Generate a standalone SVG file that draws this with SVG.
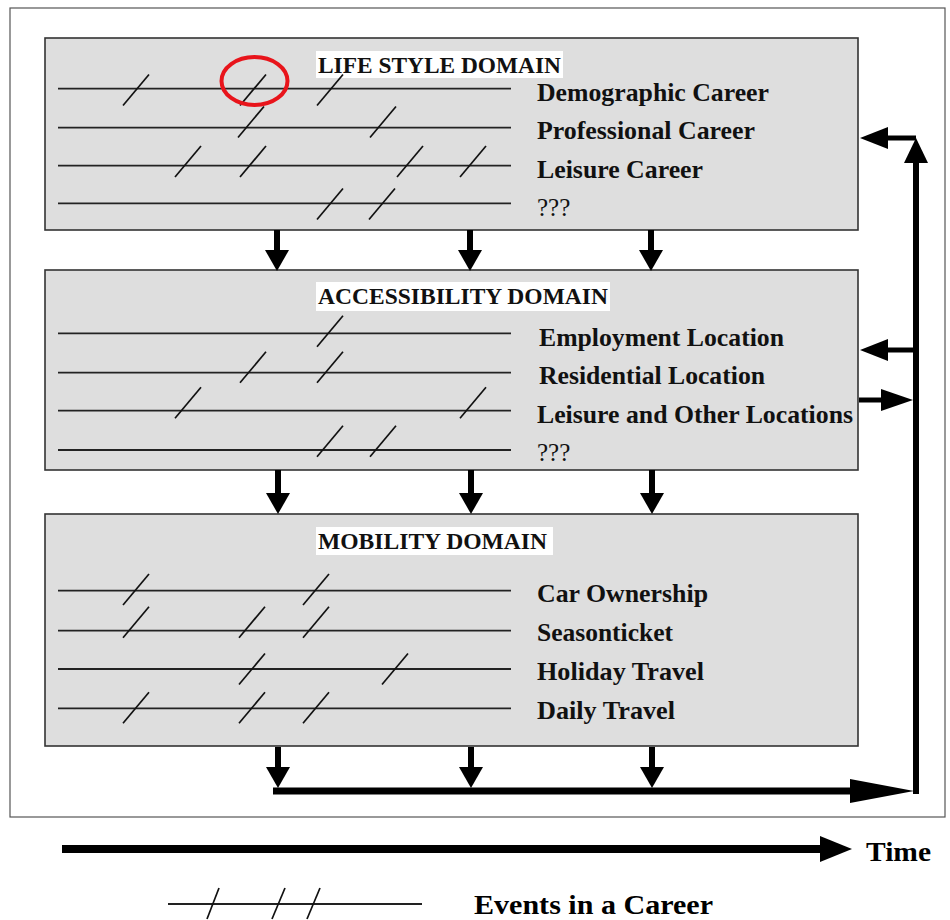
<svg xmlns="http://www.w3.org/2000/svg" xmlns:xlink="http://www.w3.org/1999/xlink" width="950" height="920" viewBox="0 0 950 920">
<style>
.frame{fill:#fff;stroke:#555;stroke-width:1.2}
.box{fill:#dedede;stroke:#333;stroke-width:1.6}
.row{stroke:#222;stroke-width:1.8;fill:none}
.tick{stroke:#111;stroke-width:1.7;fill:none}
.tbg{fill:#fff}
.title{font-family:"Liberation Serif","Times New Roman",serif;font-weight:bold;font-size:23px;fill:#111}
.lbl{font-family:"Liberation Serif","Times New Roman",serif;font-weight:bold;font-size:25px;fill:#111}
.q{font-family:"Liberation Serif","Times New Roman",serif;font-weight:normal;font-size:25px;fill:#111}
.big{font-family:"Liberation Serif","Times New Roman",serif;font-weight:bold;font-size:28px;fill:#000}
.shaft{stroke:#000;fill:none;stroke-linecap:butt}
.head{fill:#000}
</style>
<defs>
<path id="tk" class="tick" d="M-13,15 L13,-16"/>
</defs>
<rect class="frame" x="10" y="8" width="935" height="809"/>

<g id="lifestyle">
<rect class="box" x="45" y="38" width="813" height="192"/>
<rect class="tbg" x="316" y="51" width="247" height="27"/>
<text class="title" x="318" y="73" textLength="243" lengthAdjust="spacingAndGlyphs">LIFE STYLE DOMAIN</text>
<line class="row" x1="58" y1="88.7" x2="511" y2="88.7"/>
<line class="row" x1="58" y1="127.7" x2="511" y2="127.7"/>
<line class="row" x1="58" y1="165.7" x2="511" y2="165.7"/>
<line class="row" x1="58" y1="203.3" x2="511" y2="203.3"/>
<use xlink:href="#tk" x="136" y="90.5"/><use xlink:href="#tk" x="253" y="90.5"/><use xlink:href="#tk" x="330" y="90.5"/>
<use xlink:href="#tk" x="251" y="122.5"/><use xlink:href="#tk" x="383" y="122.5"/>
<use xlink:href="#tk" x="188" y="162"/><use xlink:href="#tk" x="253" y="162"/><use xlink:href="#tk" x="410" y="162"/><use xlink:href="#tk" x="473" y="162"/>
<use xlink:href="#tk" x="330" y="204.5"/><use xlink:href="#tk" x="382" y="204.5"/>
<text class="lbl" x="537" y="101" textLength="232" lengthAdjust="spacingAndGlyphs">Demographic Career</text>
<text class="lbl" x="537" y="139" textLength="218" lengthAdjust="spacingAndGlyphs">Professional Career</text>
<text class="lbl" x="537" y="178" textLength="166" lengthAdjust="spacingAndGlyphs">Leisure Career</text>
<text class="q" x="537" y="216">???</text>
<ellipse cx="254.5" cy="81" rx="33" ry="24" fill="none" stroke="#e8141b" stroke-width="4"/>
</g>

<g id="accessibility">
<rect class="box" x="45" y="270" width="813" height="200"/>
<rect class="tbg" x="316" y="282" width="294" height="29"/>
<text class="title" x="318" y="304" textLength="290" lengthAdjust="spacingAndGlyphs">ACCESSIBILITY DOMAIN</text>
<line class="row" x1="58" y1="333.3" x2="511" y2="333.3"/>
<line class="row" x1="58" y1="372.7" x2="511" y2="372.7"/>
<line class="row" x1="58" y1="410.7" x2="511" y2="410.7"/>
<line class="row" x1="58" y1="450" x2="511" y2="450"/>
<use xlink:href="#tk" x="330" y="331.7"/>
<use xlink:href="#tk" x="253" y="367.8"/><use xlink:href="#tk" x="330" y="367.8"/>
<use xlink:href="#tk" x="188" y="403.3"/><use xlink:href="#tk" x="473" y="403.3"/>
<use xlink:href="#tk" x="330" y="441.7"/><use xlink:href="#tk" x="383" y="441.7"/>
<text class="lbl" x="539" y="346" textLength="245" lengthAdjust="spacingAndGlyphs">Employment Location</text>
<text class="lbl" x="539" y="384" textLength="226" lengthAdjust="spacingAndGlyphs">Residential Location</text>
<text class="lbl" x="537" y="423" textLength="316" lengthAdjust="spacingAndGlyphs">Leisure and Other Locations</text>
<text class="q" x="537" y="461">???</text>
</g>

<g id="mobility">
<rect class="box" x="45" y="514" width="813" height="232"/>
<rect class="tbg" x="316" y="527" width="237" height="28"/>
<text class="title" x="318" y="549" textLength="229" lengthAdjust="spacingAndGlyphs">MOBILITY DOMAIN</text>
<line class="row" x1="58" y1="590.7" x2="511" y2="590.7"/>
<line class="row" x1="58" y1="630.7" x2="511" y2="630.7"/>
<line class="row" x1="58" y1="669" x2="511" y2="669"/>
<line class="row" x1="58" y1="708.3" x2="511" y2="708.3"/>
<use xlink:href="#tk" x="136" y="590"/><use xlink:href="#tk" x="316" y="590"/>
<use xlink:href="#tk" x="136" y="622.7"/><use xlink:href="#tk" x="252" y="622.7"/><use xlink:href="#tk" x="316" y="622.7"/>
<use xlink:href="#tk" x="252" y="669.5"/><use xlink:href="#tk" x="395" y="669.5"/>
<use xlink:href="#tk" x="136" y="708.3"/><use xlink:href="#tk" x="252" y="708.3"/><use xlink:href="#tk" x="316" y="708.3"/>
<text class="lbl" x="537" y="602" textLength="171" lengthAdjust="spacingAndGlyphs">Car Ownership</text>
<text class="lbl" x="537" y="641" textLength="136" lengthAdjust="spacingAndGlyphs">Seasonticket</text>
<text class="lbl" x="537" y="680" textLength="167" lengthAdjust="spacingAndGlyphs">Holiday Travel</text>
<text class="lbl" x="537" y="719" textLength="138" lengthAdjust="spacingAndGlyphs">Daily Travel</text>
</g>

<g id="connectors">
<line class="shaft" stroke-width="6" x1="277" y1="230" x2="277" y2="252"/>
<line class="shaft" stroke-width="6" x1="470" y1="230" x2="470" y2="252"/>
<line class="shaft" stroke-width="6" x1="651" y1="230" x2="651" y2="252"/>
<polygon class="head" points="265,250 289,250 277,271"/>
<polygon class="head" points="458,250 482,250 470,271"/>
<polygon class="head" points="639,250 663,250 651,271"/>
<line class="shaft" stroke-width="6" x1="278" y1="470" x2="278" y2="495"/>
<line class="shaft" stroke-width="6" x1="471" y1="470" x2="471" y2="495"/>
<line class="shaft" stroke-width="6" x1="652" y1="470" x2="652" y2="495"/>
<polygon class="head" points="266,493 290,493 278,514"/>
<polygon class="head" points="459,493 483,493 471,514"/>
<polygon class="head" points="640,493 664,493 652,514"/>
<line class="shaft" stroke-width="6" x1="278" y1="747" x2="278" y2="769"/>
<line class="shaft" stroke-width="6" x1="471" y1="747" x2="471" y2="769"/>
<line class="shaft" stroke-width="6" x1="652" y1="747" x2="652" y2="769"/>
<polygon class="head" points="266,767 290,767 278,788"/>
<polygon class="head" points="459,767 483,767 471,788"/>
<polygon class="head" points="640,767 664,767 652,788"/>
<line class="shaft" stroke-width="7" x1="273" y1="791" x2="852" y2="791"/>
<polygon class="head" points="850,779 850,803 914,791"/>
<line class="shaft" stroke-width="6" x1="916" y1="794" x2="916" y2="160"/>
<polygon class="head" points="904,163 928,163 916,138"/>
<line class="shaft" stroke-width="5" x1="916" y1="138" x2="886" y2="138"/>
<polygon class="head" points="888,127 888,149 860,138"/>
<line class="shaft" stroke-width="5" x1="916" y1="350" x2="886" y2="350"/>
<polygon class="head" points="888,339 888,361 860,350"/>
<line class="shaft" stroke-width="5" x1="859" y1="400" x2="883" y2="400"/>
<polygon class="head" points="881,389 881,411 913,400"/>
</g>

<g id="legend">
<line class="shaft" stroke-width="8" x1="62" y1="849" x2="823" y2="849"/>
<polygon class="head" points="820,836 820,862 852,849"/>
<text class="big" x="866" y="861" textLength="65" lengthAdjust="spacingAndGlyphs">Time</text>
<line class="row" stroke-width="1.5" x1="168" y1="904" x2="422" y2="904"/>
<line class="tick" x1="207" y1="919" x2="219" y2="888"/>
<line class="tick" x1="272" y1="919" x2="285" y2="888"/>
<line class="tick" x1="307" y1="919" x2="320" y2="888"/>
<text class="big" x="474" y="914" font-size="26" textLength="239" lengthAdjust="spacingAndGlyphs">Events in a Career</text>
</g>
</svg>
